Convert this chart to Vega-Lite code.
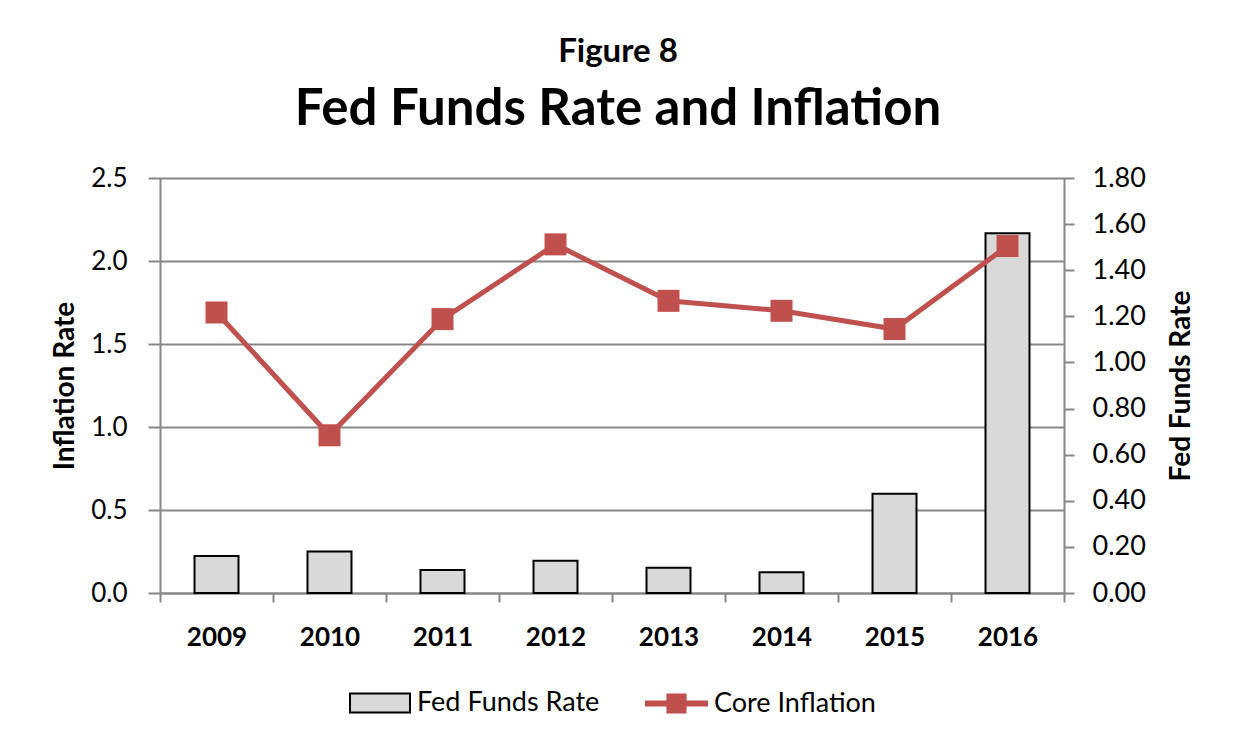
{
  "$schema": "https://vega.github.io/schema/vega-lite/v6.json",
  "width": 904,
  "height": 415,
  "autosize": "none",
  "padding": {"left": 160, "top": 178, "right": 169, "bottom": 147},
  "background": "white",
  "title": {
    "text": "Figure 8",
    "subtitle": "Fed Funds Rate and Inflation",
    "anchor": "middle",
    "dx": 6,
    "font": "Lato",
    "fontSize": 33,
    "fontWeight": "bold",
    "color": "black",
    "subtitleFont": "Lato",
    "subtitleFontSize": 51,
    "subtitleFontWeight": "bold",
    "subtitleColor": "black",
    "subtitlePadding": 16,
    "offset": 29
  },
  "data": {
    "values": [
      {"year": "2009", "inflation": 1.69, "ffr": 0.16},
      {"year": "2010", "inflation": 0.95, "ffr": 0.18},
      {"year": "2011", "inflation": 1.65, "ffr": 0.10},
      {"year": "2012", "inflation": 2.10, "ffr": 0.14},
      {"year": "2013", "inflation": 1.76, "ffr": 0.11},
      {"year": "2014", "inflation": 1.70, "ffr": 0.09},
      {"year": "2015", "inflation": 1.59, "ffr": 0.43},
      {"year": "2016", "inflation": 2.09, "ffr": 1.56}
    ]
  },
  "encoding": {
    "x": {
      "field": "year",
      "type": "ordinal",
      "scale": {"paddingInner": 0, "paddingOuter": 0},
      "axis": {
        "title": null,
        "labelAngle": 0,
        "labelFont": "Lato",
        "labelFontSize": 26,
        "labelFontWeight": "bold",
        "labelColor": "black",
        "labelPadding": 22,
        "tickBand": "extent",
        "tickSize": 9,
        "tickColor": "#868686",
        "tickWidth": 2,
        "domainColor": "#868686",
        "domainWidth": 2
      }
    }
  },
  "layer": [
    {
      "mark": {"type": "bar", "size": 44, "stroke": "black", "strokeWidth": 2},
      "encoding": {
        "y": {
          "field": "ffr",
          "type": "quantitative",
          "scale": {"domain": [0, 1.8], "nice": false, "zero": true},
          "axis": {
            "orient": "right",
            "title": "Fed Funds Rate",
            "titleAngle": 270,
            "titleFont": "Lato",
            "titleFontSize": 28,
            "titleFontWeight": "bold",
            "titleColor": "black",
            "titlePadding": 50,
            "values": [0, 0.2, 0.4, 0.6, 0.8, 1.0, 1.2, 1.4, 1.6, 1.8],
            "format": ".2f",
            "grid": false,
            "labelFont": "Lato",
            "labelFontSize": 27,
            "labelColor": "black",
            "labelPadding": 18,
            "tickSize": 10,
            "tickColor": "#868686",
            "tickWidth": 2,
            "domainColor": "#868686",
            "domainWidth": 2
          }
        },
        "fill": {
          "datum": "Fed Funds Rate",
          "type": "nominal",
          "scale": {"range": ["#d9d9d9"]},
          "legend": {
            "title": null,
            "orient": "bottom",
            "direction": "horizontal",
            "offset": 22,
            "symbolType": "M-1,-0.32H1V0.32H-1Z",
            "symbolSize": 3600,
            "symbolStrokeColor": "black",
            "symbolStrokeWidth": 2,
            "labelFont": "Lato",
            "labelFontSize": 27,
            "labelColor": "black",
            "labelOffset": 6,
            "labelLimit": 400
          }
        }
      }
    },
    {
      "mark": {"type": "line", "strokeWidth": 5},
      "encoding": {
        "y": {
          "field": "inflation",
          "type": "quantitative",
          "scale": {"domain": [0, 2.5], "nice": false},
          "axis": {
            "orient": "left",
            "title": "Inflation Rate",
            "titleFont": "Lato",
            "titleFontSize": 28,
            "titleFontWeight": "bold",
            "titleColor": "black",
            "titlePadding": 11,
            "values": [0, 0.5, 1.0, 1.5, 2.0, 2.5],
            "format": ".1f",
            "grid": true,
            "gridColor": "#868686",
            "gridWidth": 2,
            "labelFont": "Lato",
            "labelFontSize": 26,
            "labelColor": "black",
            "labelPadding": 21,
            "tickSize": 12,
            "tickColor": "#868686",
            "tickWidth": 2,
            "domainColor": "#868686",
            "domainWidth": 2
          }
        },
        "stroke": {
          "datum": "Core Inflation",
          "type": "nominal",
          "scale": {"range": ["#c0504d"]},
          "legend": {
            "title": null,
            "orient": "bottom",
            "direction": "horizontal",
            "offset": 22,
            "symbolType": "M-1,-0.095H1V0.095H-1Z M-0.32,-0.32H0.32V0.32H-0.32Z",
            "symbolSize": 3969,
            "symbolFillColor": "#c0504d",
            "symbolStrokeWidth": 0,
            "labelFont": "Lato",
            "labelFontSize": 27,
            "labelColor": "black",
            "labelOffset": 6,
            "labelLimit": 400,
            "encode": {"symbols": {"update": {"fill": {"value": "#c0504d"}, "strokeWidth": {"value": 0}}}}
          }
        }
      }
    },
    {
      "mark": {"type": "point", "shape": "square", "size": 484, "filled": true, "color": "#c0504d", "opacity": 1},
      "encoding": {
        "y": {"field": "inflation", "type": "quantitative", "scale": {"domain": [0, 2.5], "nice": false}, "axis": null}
      }
    }
  ],
  "resolve": {"scale": {"y": "independent"}},
  "config": {
    "font": "Lato",
    "view": {"stroke": null},
    "legend": {"layout": {"bottom": {"anchor": "middle", "direction": "horizontal", "margin": 45}}}
  }
}
